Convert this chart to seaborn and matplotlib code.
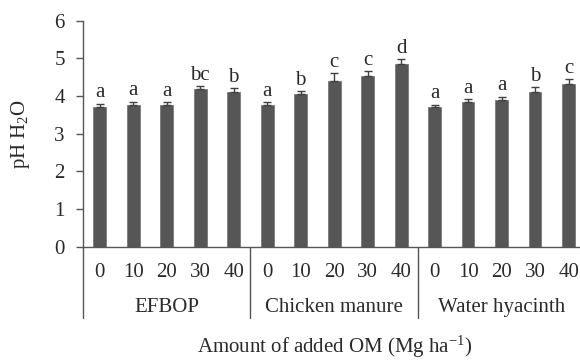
import pandas as pd
import seaborn as sns
import matplotlib.pyplot as plt

# data
sources = ["EFBOP", "Chicken manure", "Water hyacinth"]
doses = ["0", "10", "20", "30", "40"]
ph_efbop = [3.72, 3.76, 3.76, 4.18, 4.11]
ph_chicken = [3.75, 4.05, 4.40, 4.53, 4.84]
ph_hyacinth = [3.70, 3.83, 3.90, 4.11, 4.33]
err_efbop = [0.08, 0.09, 0.08, 0.08, 0.09]
err_chicken = [0.09, 0.08, 0.21, 0.13, 0.13]
err_hyacinth = [0.07, 0.09, 0.08, 0.12, 0.12]
letters_efbop = ["a", "a", "a", "bc", "b"]
letters_chicken = ["a", "b", "c", "c", "d"]
letters_hyacinth = ["a", "a", "a", "b", "c"]

rows = []
for src, vals, errs, lets in zip(sources,
                                 [ph_efbop, ph_chicken, ph_hyacinth],
                                 [err_efbop, err_chicken, err_hyacinth],
                                 [letters_efbop, letters_chicken, letters_hyacinth]):
    for d, v, e, l in zip(doses, vals, errs, lets):
        rows.append({"Source": src, "Dose": d, "Slot": f"{src} {d}",
                     "pH": v, "SE": e, "Letter": l})
df = pd.DataFrame(rows)

sns.set_style("ticks")
plt.rcParams['font.family'] = ['Liberation Serif', 'DejaVu Serif']
plt.rcParams['mathtext.fontset'] = 'custom'
plt.rcParams['mathtext.rm'] = 'Liberation Serif'
plt.rcParams['mathtext.it'] = 'Liberation Serif:italic'

FS = 15
TXT = "#2a2a2a"

fig = plt.figure(figsize=(5.8, 3.63), dpi=100)
ax = fig.add_axes([0.143, 0.3204, 0.857, 0.6226])

sns.barplot(data=df, x="Slot", y="pH", order=list(df["Slot"]), color="#565656",
            width=0.38, errorbar=None, ax=ax, edgecolor="#7a7a7a", linewidth=0.6)
ax.errorbar(range(len(df)), df["pH"], yerr=[[0] * len(df), df["SE"]], fmt="none",
            ecolor="#404040", elinewidth=1.0, capsize=3, capthick=1.0)

for i, r in df.iterrows():
    ax.text(i, r["pH"] + r["SE"] + 0.04, r["Letter"], ha="center", va="bottom",
            fontsize=FS, color=TXT)

ax.set_ylim(0, 6)
ax.set_yticks(range(0, 7))
ax.set_xlim(-0.5, 14.34)
ax.set_xticks(range(len(df)))
ax.set_xticklabels(list(df["Dose"]))
ax.tick_params(axis="x", length=0, pad=12, labelsize=FS, labelcolor=TXT)
ax.tick_params(axis="y", length=5, width=1, pad=8, labelsize=FS, color="#555555",
               labelcolor=TXT)
ax.set_xlabel("")
ax.set_ylabel(r"pH H$_\mathregular{2}$O", fontsize=FS, labelpad=16, color=TXT)
sns.despine(ax=ax)
for s in ["left", "bottom"]:
    ax.spines[s].set_color("#555555")
    ax.spines[s].set_linewidth(1.0)

trans = ax.get_xaxis_transform()
for xb in [-0.5, 4.5, 9.5, 14.5]:
    ax.plot([xb, xb], [0, -0.315], transform=trans, color="#555555",
            linewidth=1.0, clip_on=False)
for k, src in enumerate(sources):
    ax.text(k * 5 + 2, -0.27, src, transform=trans, ha="center", va="center",
            fontsize=FS, color=TXT)

fig.text(0.577, 0.008, r"Amount of added OM (Mg ha$^{\mathregular{-1}}$)",
         ha="center", va="bottom", fontsize=FS, color=TXT)

fig.savefig("out.png", dpi=100)
plt.close(fig)
